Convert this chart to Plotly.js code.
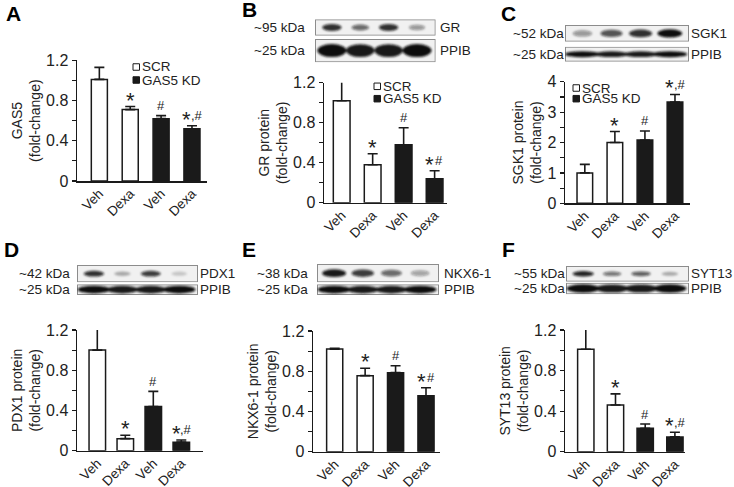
<!DOCTYPE html>
<html>
<head>
<meta charset="utf-8">
<script src="https://cdn.plot.ly/plotly-3.0.1.min.js"></script>
<style>
  html, body { margin: 0; padding: 0; background: #fff; }
  #fig { width: 734px; height: 487px; }
</style>
</head>
<body>
<div id="fig"></div>
<script>
// bar groups (same 4 groups in every panel)
const groups = ['Veh', 'Dexa', 'Veh', 'Dexa'];
const catIds = ['SCR Veh', 'SCR Dexa', 'KD Veh', 'KD Dexa'];
const seriesNames = ['SCR', 'GAS5 KD'];

// fold-change, mean and SEM
const gas5Mean = [1.01, 0.71, 0.62, 0.52];
const gas5Sem = [0.12, 0.03, 0.03, 0.03];
const grMean = [1.02, 0.38, 0.58, 0.24];
const grSem = [0.22, 0.11, 0.17, 0.08];
const sgk1Mean = [1.0, 2.0, 2.08, 3.33];
const sgk1Sem = [0.28, 0.36, 0.30, 0.25];
const pdx1Mean = [1.0, 0.12, 0.44, 0.085];
const pdx1Sem = [0.24, 0.033, 0.15, 0.022];
const nkxMean = [1.02, 0.756, 0.786, 0.557];
const nkxSem = [0.008, 0.073, 0.069, 0.079];
const syt13Mean = [1.01, 0.46, 0.23, 0.146];
const syt13Sem = [0.25, 0.11, 0.043, 0.046];

// significance marks above each bar
const sigA = ['', '*', '#', '*,#'];
const sigB = ['', '*', '#', '*#'];
const sigC = ['', '*', '#', '*,#'];
const sigD = ['', '*', '#', '*,#'];
const sigE = ['', '*', '#', '*#'];
const sigF = ['', '*', '#', '*,#'];

// western blot band strength per lane (0..1)
const grBands = [0.85, 0.6, 0.85, 0.4];
const sgk1Bands = [0.4, 0.7, 0.85, 1.0];
const pdx1Bands = [0.85, 0.3, 0.8, 0.18];
const nkxBands = [0.95, 0.8, 0.6, 0.35];
const syt13Bands = [0.9, 0.55, 0.65, 0.3];
const ppibBands = [1, 0.95, 0.95, 1];

const W = 734, H = 487;
const px = v => v / W;
const py = v => 1 - v / H;
const FONT = 'Arial, "Liberation Sans", sans-serif';
const INK = '#1a1a1a';

const panels = [
  {letter: 'A', lx: 4, ly: 13, mean: gas5Mean, sem: gas5Sem, sig: sigA, ytitle: 'GAS5',
   x0: 77, x1: 207, top: 60.3, bot: 181, xr: [-0.724, 3.487], bw: 0.52, ymax: 1.2, dtick: 0.4, minor: 0.2,
   leg: {x: 133, y1: 67, y2: 80}},
  {letter: 'B', lx: 240, ly: 10, mean: grMean, sem: grSem, sig: sigB, ytitle: 'GR protein',
   x0: 324, x1: 447, top: 82.7, bot: 202.7, xr: [-0.571, 3.40], bw: 0.54, ymax: 1.2, dtick: 0.4, minor: 0.2,
   leg: {x: 374, y1: 86.3, y2: 98.7},
   blot: {x0: 315, x1: 435.7, lab: 306, name: 439,
          rows: [{top: 19.3, bot: 35.7, kda: '~95 kDa', prot: 'GR', bands: grBands, thick: 0.22, spread: 0.085},
                 {top: 39, bot: 62.3, kda: '~25 kDa', prot: 'PPIB', bands: ppibBands, thick: 0.28, spread: 0.12}]}},
  {letter: 'C', lx: 499, ly: 14, mean: sgk1Mean, sem: sgk1Sem, sig: sigC, ytitle: 'SGK1 protein',
   x0: 565, x1: 690, top: 81.7, bot: 203.3, xr: [-0.66, 3.5], bw: 0.52, ymax: 4, dtick: 1, minor: 0.5,
   leg: {x: 573, y1: 88, y2: 98.7},
   blot: {x0: 565, x1: 689, lab: 565, name: 690,
          rows: [{top: 25, bot: 41.7, kda: '~52 kDa', prot: 'SGK1', bands: sgk1Bands, thick: 0.25, spread: 0.1},
                 {top: 46.7, bot: 61.7, kda: '~25 kDa', prot: 'PPIB', bands: ppibBands, thick: 0.2, spread: 0.14}]}},
  {letter: 'D', lx: 2, ly: 250, mean: pdx1Mean, sem: pdx1Sem, sig: sigD, ytitle: 'PDX1 protein',
   x0: 77, x1: 203, top: 330, bot: 450.7, xr: [-0.725, 3.775], bw: 0.59, ymax: 1.2, dtick: 0.4, minor: 0.2,
   blot: {x0: 77, x1: 198, lab: 71, name: 199,
          rows: [{top: 265, bot: 282.3, kda: '~42 kDa', prot: 'PDX1', bands: pdx1Bands, thick: 0.18, spread: 0.09},
                 {top: 284.3, bot: 295, kda: '~25 kDa', prot: 'PPIB', bands: ppibBands, thick: 0.36, spread: 0.135}]}},
  {letter: 'E', lx: 240, ly: 250, mean: nkxMean, sem: nkxSem, sig: sigE, ytitle: 'NKX6-1 protein',
   x0: 313, x1: 440, top: 331, bot: 451.7, xr: [-0.713, 3.46], bw: 0.53, ymax: 1.2, dtick: 0.4, minor: 0.2,
   blot: {x0: 317, x1: 439, lab: 309, name: 443,
          rows: [{top: 264, bot: 282.3, kda: '~38 kDa', prot: 'NKX6-1', bands: nkxBands, thick: 0.22, spread: 0.1},
                 {top: 284.3, bot: 295, kda: '~25 kDa', prot: 'PPIB', bands: ppibBands, thick: 0.36, spread: 0.135}]}},
  {letter: 'F', lx: 500, ly: 250, mean: syt13Mean, sem: syt13Sem, sig: sigF, ytitle: 'SYT13 protein',
   x0: 565, x1: 685, top: 330, bot: 451.7, xr: [-0.70, 3.34], bw: 0.55, ymax: 1.2, dtick: 0.4, minor: 0.2,
   blot: {x0: 566, x1: 689, lab: 566, name: 690,
          rows: [{top: 266, bot: 281.7, kda: '~55 kDa', prot: 'SYT13', bands: syt13Bands, thick: 0.18, spread: 0.09},
                 {top: 282.7, bot: 294.3, kda: '~25 kDa', prot: 'PPIB', bands: ppibBands, thick: 0.36, spread: 0.135}]}}
];

// soft blot strip drawn as a small svg picture
function blotImage(w, h, bands, thick, spread) {
  let s = `<svg xmlns="http://www.w3.org/2000/svg" width="${w}" height="${h}" viewBox="0 0 ${w} ${h}" preserveAspectRatio="none">`;
  s += '<defs><filter id="b" x="-30%" y="-80%" width="160%" height="260%"><feGaussianBlur stdDeviation="1.1"/></filter></defs>';
  s += `<rect x="0.5" y="0.5" width="${w - 1}" height="${h - 1}" fill="#f1f1f1" stroke="#8c8c8c" stroke-width="1"/>`;
  s += '<g filter="url(#b)">';
  bands.forEach((v, i) => {
    const cx = w * (0.14 + 0.235 * i);
    const rx = w * spread * (0.65 + 0.35 * v);
    const ry = h * thick * (0.6 + 0.4 * v);
    s += `<ellipse cx="${cx.toFixed(1)}" cy="${(h / 2).toFixed(1)}" rx="${rx.toFixed(1)}" ry="${ry.toFixed(1)}" fill="#111" fill-opacity="${v}"/>`;
  });
  s += '</g></svg>';
  return 'data:image/svg+xml;charset=utf-8,' + encodeURIComponent(s);
}

const traces = [];
const layout = {
  width: W, height: H,
  margin: {l: 0, r: 0, t: 0, b: 0},
  paper_bgcolor: '#fff', plot_bgcolor: 'rgba(0,0,0,0)',
  font: {family: FONT, color: '#222'},
  barmode: 'overlay',
  showlegend: false,
  annotations: [], shapes: [], images: []
};

panels.forEach((p, k) => {
  const n = k === 0 ? '' : String(k + 1);
  const xa = 'x' + n, ya = 'y' + n;

  [0, 1].forEach(s => {
    const idx = s === 0 ? [0, 1] : [2, 3];
    traces.push({
      type: 'bar', xaxis: xa, yaxis: ya, name: seriesNames[s],
      x: idx.map(i => catIds[i]),
      y: idx.map(i => p.mean[i]),
      width: p.bw,
      marker: {color: s === 0 ? '#ffffff' : INK, line: {color: INK, width: 1.5}},
      error_y: {type: 'data', symmetric: false, array: idx.map(i => p.sem[i]), arrayminus: [0, 0],
                color: INK, thickness: 1.6, width: 5},
      cliponaxis: false, hoverinfo: 'skip'
    });
  });

  layout['xaxis' + n] = {
    domain: [px(p.x0), px(p.x1)], anchor: ya, type: 'category',
    categoryorder: 'array', categoryarray: catIds, tickvals: catIds, ticktext: groups,
    range: p.xr, tickangle: -45, ticks: '', ticklabelstandoff: -2,
    showline: true, linecolor: INK, linewidth: 1.5,
    showgrid: false, zeroline: false, tickfont: {size: 13.5, color: '#222'}, fixedrange: true
  };
  layout['yaxis' + n] = {
    domain: [py(p.bot), py(p.top)], anchor: xa, range: [0, p.ymax], tick0: 0, dtick: p.dtick,
    ticks: 'outside', ticklen: 4, tickwidth: 1.2, tickcolor: INK,
    minor: {tick0: 0, dtick: p.minor, ticks: 'outside', ticklen: 4, tickwidth: 1.2, tickcolor: INK},
    showline: true, linecolor: INK, linewidth: 1.5, showgrid: false, zeroline: false,
    tickfont: {size: 16, color: '#222'}, fixedrange: true,
    title: {text: p.ytitle + '<br>(fold-change)', font: {size: 14, color: '#222'}, standoff: 2}
  };

  // significance marks: star and hash placed side by side above the error cap
  p.sig.forEach((t, i) => {
    if (!t) return;
    const top = p.mean[i] + p.sem[i];
    const hasStar = t.includes('*');
    const rest = t.replace('*', '');
    const both = hasStar && rest.length > 0;
    if (hasStar) {
      layout.annotations.push({
        xref: xa, yref: ya, x: catIds[i], y: top, text: '*', showarrow: false,
        xanchor: 'center', yanchor: 'bottom', yshift: -7, xshift: both ? -5 : 0,
        borderpad: 0, font: {size: 22, color: '#222'}
      });
    }
    if (rest) {
      layout.annotations.push({
        xref: xa, yref: ya, x: catIds[i], y: top, text: rest, showarrow: false,
        xanchor: 'center', yanchor: 'bottom', yshift: 1.5, xshift: both ? (rest.length > 1 ? 5 : 4.5) : 0,
        borderpad: 0, font: {size: 13, color: '#222'}
      });
    }
  });

  // panel letter
  layout.annotations.push({
    xref: 'paper', yref: 'paper', x: px(p.lx), y: py(p.ly), xanchor: 'left', yanchor: 'middle',
    text: p.letter, showarrow: false, font: {size: 21, weight: 'bold', color: '#000'}
  });

  // hand-drawn legend in the first row
  if (p.leg) {
    [p.leg.y1, p.leg.y2].forEach((yc, s) => {
      layout.shapes.push({
        type: 'rect', xref: 'paper', yref: 'paper',
        x0: px(p.leg.x), x1: px(p.leg.x + 6.5), y0: py(yc + 3.25), y1: py(yc - 3.25),
        fillcolor: s === 0 ? '#fff' : INK, line: {color: INK, width: 1}
      });
      layout.annotations.push({
        xref: 'paper', yref: 'paper', x: px(p.leg.x + 7.5), y: py(yc), xanchor: 'left', yanchor: 'middle',
        text: seriesNames[s], showarrow: false, borderpad: 0, font: {size: 13.5, color: '#222'}
      });
    });
  }

  // western blot strips
  if (p.blot) {
    const b = p.blot;
    b.rows.forEach(r => {
      const w = b.x1 - b.x0, h = r.bot - r.top;
      layout.images.push({
        source: blotImage(w, h, r.bands, r.thick, r.spread),
        xref: 'paper', yref: 'paper', x: px(b.x0), y: py(r.top), sizex: w / W, sizey: h / H,
        xanchor: 'left', yanchor: 'top', sizing: 'stretch', layer: 'above'
      });
      const yc = (r.top + r.bot) / 2;
      layout.annotations.push({
        xref: 'paper', yref: 'paper', x: px(b.lab), y: py(yc), xanchor: 'right', yanchor: 'middle',
        text: r.kda, showarrow: false, borderpad: 0, font: {size: 13.5, color: '#222'}
      });
      layout.annotations.push({
        xref: 'paper', yref: 'paper', x: px(b.name), y: py(yc), xanchor: 'left', yanchor: 'middle',
        text: r.prot, showarrow: false, borderpad: 0, font: {size: 13.5, color: '#222'}
      });
    });
  }
});

Plotly.newPlot('fig', traces, layout, {displayModeBar: false, staticPlot: true});
</script>
</body>
</html>
